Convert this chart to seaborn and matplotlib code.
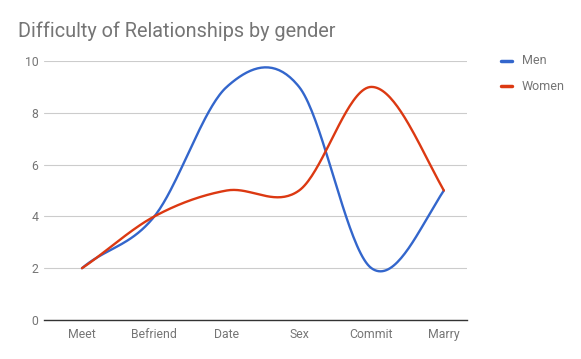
import matplotlib
matplotlib.use("Agg")
import matplotlib.pyplot as plt
import numpy as np
import pandas as pd
import seaborn as sns

stages = ['Meet', 'Befriend', 'Date', 'Sex', 'Commit', 'Marry']
men = [2, 4, 9, 9, 2, 5]
women = [2, 4, 5, 5, 9, 5]
y_ticks = [0, 2, 4, 6, 8, 10]

colors = {'Men': '#3366cc', 'Women': '#dc3912'}


def smooth(vals, n=40):
    # catmull-rom style curve through the points (like the "smooth" option)
    v = np.asarray(vals, dtype=float)
    k = len(v)
    m = np.zeros(k)
    m[1:-1] = (v[2:] - v[:-2]) / 2
    m[0] = (v[1] - v[0]) * 0.75 + m[1] * 0.25
    m[-1] = (v[-1] - v[-2]) * 1.25 - m[-2] * 0.25
    xs, ys = [], []
    for i in range(k - 1):
        t = np.linspace(0, 1, n, endpoint=(i == k - 2))
        h00 = 2 * t**3 - 3 * t**2 + 1
        h10 = t**3 - 2 * t**2 + t
        h01 = -2 * t**3 + 3 * t**2
        h11 = t**3 - t**2
        ys.append(h00 * v[i] + h10 * m[i] + h01 * v[i + 1] + h11 * m[i + 1])
        xs.append(i + t)
    return np.concatenate(xs), np.concatenate(ys)


rows = []
for name, vals in [('Men', men), ('Women', women)]:
    xs, ys = smooth(vals)
    rows.append(pd.DataFrame({'x': xs, 'y': ys, 'Gender': name}))
df = pd.concat(rows, ignore_index=True)

sns.set_style('white')
plt.rcParams['font.family'] = ['Roboto', 'DejaVu Sans']

fig = plt.figure(figsize=(5.81, 3.59), dpi=100)
ax = fig.add_axes([44 / 581, 1 - 320 / 359, (467 - 44) / 581, (320 - 61) / 359])

sns.lineplot(data=df, x='x', y='y', hue='Gender', palette=colors, linewidth=1.7,
             ax=ax, sort=False, estimator=None, legend=False)

ax.set_ylim(0, 10)
ax.set_xlim(-0.525, 5.32)
ax.set_yticks(y_ticks)
ax.set_yticklabels([str(t) for t in y_ticks])
ax.set_xticks(range(len(stages)))
ax.set_xticklabels(stages)
ax.set_xlabel('')
ax.set_ylabel('')
ax.tick_params(axis='both', length=0, labelsize=8.8, labelcolor='#757575')
ax.tick_params(axis='x', pad=6)
ax.tick_params(axis='y', pad=4)
ax.yaxis.grid(True, color='#cccccc', linewidth=0.8)
ax.set_axisbelow(True)
for s in ['top', 'right', 'left']:
    ax.spines[s].set_visible(False)
ax.spines['bottom'].set_color('#333333')
ax.spines['bottom'].set_linewidth(1.0)
ax.spines['bottom'].set_zorder(5)

fig.text(18 / 581, 1 - 31 / 359, 'Difficulty of Relationships by gender',
         fontsize=14.3, color='#757575', ha='left', va='center')

# legend
for i, name in enumerate(['Men', 'Women']):
    yy = 1 - (61 + i * 25) / 359
    fig.lines.append(plt.Line2D([501 / 581, 512 / 581], [yy, yy], color=colors[name],
                                linewidth=2.5, transform=fig.transFigure))
    fig.text(522 / 581, yy, name, fontsize=9, color='#757575', ha='left', va='center')

fig.savefig('out.png', dpi=100)
